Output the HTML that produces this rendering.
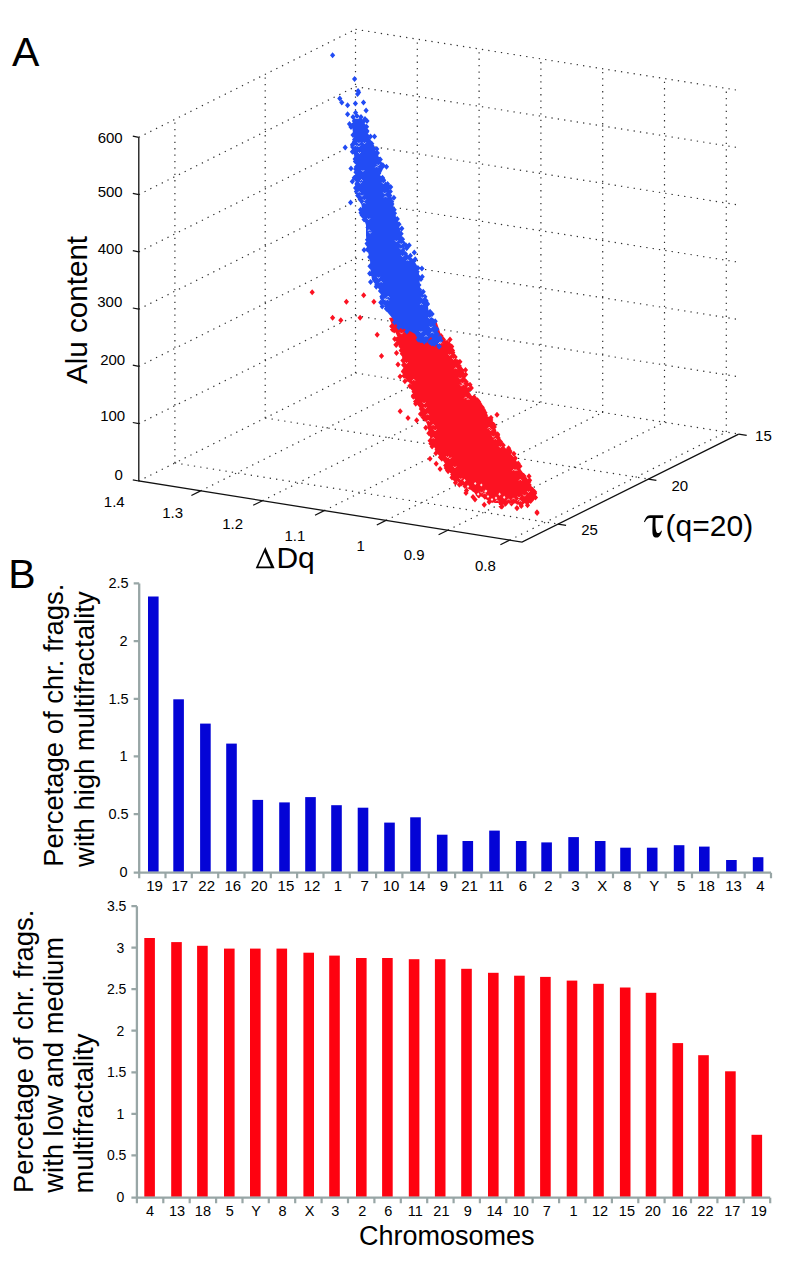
<!DOCTYPE html>
<html><head><meta charset="utf-8"><title>Figure</title>
<style>html,body{margin:0;padding:0;background:#fff;}svg{display:block;}
text{font-family:"Liberation Sans",sans-serif;fill:#000;}</style></head>
<body><svg width="785" height="1261" viewBox="0 0 785 1261">
<path d="M138.8 481.0L355.5 373.0M138.8 423.7L355.5 315.7M138.8 366.4L355.5 258.4M138.8 309.2L355.5 201.2M138.8 251.9L355.5 143.9M138.8 194.6L355.5 86.6M138.8 137.3L355.5 29.3M174.9 463.0L174.9 119.3M265.2 418.0L265.2 74.3M355.5 373.0L355.5 29.3M355.5 373.0L738.7 434.1M355.5 315.7L738.7 376.8M355.5 258.4L738.7 319.5M355.5 201.2L738.7 262.2M355.5 143.9L738.7 205.0M355.5 86.6L738.7 147.7M355.5 29.3L738.7 90.4M355.5 373.0L355.5 29.3M417.3 382.9L417.3 39.2M479.1 392.7L479.1 49.0M540.9 402.6L540.9 58.9M602.7 412.4L602.7 68.7M664.5 422.2L664.5 78.6M726.3 432.1L726.3 88.4M138.8 481.0L355.5 373.0M200.6 490.9L417.3 382.9M262.4 500.7L479.1 392.7M324.2 510.6L540.9 402.6M386.0 520.4L602.7 412.4M447.8 530.2L664.5 422.2M509.6 540.1L726.3 432.1M174.9 463.0L558.1 524.1M265.2 418.0L648.4 479.1M355.5 373.0L738.7 434.1" fill="none" stroke="#303030" stroke-width="1.2" stroke-dasharray="1.3 5.1"/>
<path d="M400.0 316.0L436.0 320.0L441.0 335.0L448.0 343.0L452.0 350.0L455.0 354.0L457.0 360.0L460.0 366.0L464.0 371.5L466.0 380.0L468.0 390.0L472.0 396.0L478.0 401.0L485.0 413.0L494.0 424.0L498.0 436.0L504.5 447.0L510.0 453.0L515.5 459.0L521.0 470.0L525.5 476.0L530.0 482.0L533.5 491.0L534.5 497.0L533.0 501.0L526.0 503.0L518.0 503.5L505.0 503.0L495.0 503.0L489.0 501.0L482.0 497.0L475.0 493.0L467.0 488.0L458.0 482.0L449.0 470.0L442.0 459.0L434.0 447.0L429.5 436.0L427.0 424.0L421.0 413.0L419.5 408.0L416.7 401.5L413.0 397.0L413.0 390.0L411.0 384.0L407.0 381.0L404.5 376.0L403.0 365.0L402.0 356.0L400.5 345.0L397.5 337.0L394.0 329.0L389.0 318.0ZM497.7 431.3l2.6 3.0l-2.6 3.0l-2.6 -3.0zM501.0 500.8l2.6 3.0l-2.6 3.0l-2.6 -3.0zM510.0 448.9l2.6 3.0l-2.6 3.0l-2.6 -3.0zM529.0 478.7l2.6 3.0l-2.6 3.0l-2.6 -3.0zM435.1 328.9l2.6 3.0l-2.6 3.0l-2.6 -3.0zM449.1 341.4l2.6 3.0l-2.6 3.0l-2.6 -3.0zM465.1 391.0l2.6 3.0l-2.6 3.0l-2.6 -3.0zM483.4 489.4l2.6 3.0l-2.6 3.0l-2.6 -3.0zM518.0 462.8l2.6 3.0l-2.6 3.0l-2.6 -3.0zM406.7 374.0l2.6 3.0l-2.6 3.0l-2.6 -3.0zM489.0 416.2l2.6 3.0l-2.6 3.0l-2.6 -3.0zM494.3 424.0l2.6 3.0l-2.6 3.0l-2.6 -3.0zM413.3 393.8l2.6 3.0l-2.6 3.0l-2.6 -3.0zM454.3 475.5l2.6 3.0l-2.6 3.0l-2.6 -3.0zM510.3 453.4l2.6 3.0l-2.6 3.0l-2.6 -3.0zM465.0 380.2l2.6 3.0l-2.6 3.0l-2.6 -3.0zM445.2 455.7l2.6 3.0l-2.6 3.0l-2.6 -3.0zM477.5 490.7l2.6 3.0l-2.6 3.0l-2.6 -3.0zM531.1 488.6l2.6 3.0l-2.6 3.0l-2.6 -3.0zM435.9 450.2l2.6 3.0l-2.6 3.0l-2.6 -3.0zM473.9 399.1l2.6 3.0l-2.6 3.0l-2.6 -3.0zM406.0 365.9l2.6 3.0l-2.6 3.0l-2.6 -3.0zM432.8 434.1l2.6 3.0l-2.6 3.0l-2.6 -3.0zM450.0 336.6l2.6 3.0l-2.6 3.0l-2.6 -3.0zM523.6 472.7l2.6 3.0l-2.6 3.0l-2.6 -3.0zM525.2 497.6l2.6 3.0l-2.6 3.0l-2.6 -3.0zM447.2 461.9l2.6 3.0l-2.6 3.0l-2.6 -3.0zM407.4 365.6l2.6 3.0l-2.6 3.0l-2.6 -3.0zM493.7 427.1l2.6 3.0l-2.6 3.0l-2.6 -3.0zM481.7 489.4l2.6 3.0l-2.6 3.0l-2.6 -3.0zM534.7 489.0l2.6 3.0l-2.6 3.0l-2.6 -3.0zM531.4 493.0l2.6 3.0l-2.6 3.0l-2.6 -3.0zM446.2 465.1l2.6 3.0l-2.6 3.0l-2.6 -3.0zM452.7 471.4l2.6 3.0l-2.6 3.0l-2.6 -3.0zM414.8 391.0l2.6 3.0l-2.6 3.0l-2.6 -3.0zM445.7 462.6l2.6 3.0l-2.6 3.0l-2.6 -3.0zM533.3 492.2l2.6 3.0l-2.6 3.0l-2.6 -3.0zM424.8 415.7l2.6 3.0l-2.6 3.0l-2.6 -3.0zM449.1 344.7l2.6 3.0l-2.6 3.0l-2.6 -3.0zM403.4 368.3l2.6 3.0l-2.6 3.0l-2.6 -3.0zM434.3 323.6l2.6 3.0l-2.6 3.0l-2.6 -3.0zM403.6 361.9l2.6 3.0l-2.6 3.0l-2.6 -3.0zM413.4 392.4l2.6 3.0l-2.6 3.0l-2.6 -3.0zM521.7 472.2l2.6 3.0l-2.6 3.0l-2.6 -3.0zM508.6 445.3l2.6 3.0l-2.6 3.0l-2.6 -3.0zM451.6 355.1l2.6 3.0l-2.6 3.0l-2.6 -3.0zM460.7 366.1l2.6 3.0l-2.6 3.0l-2.6 -3.0zM527.4 499.6l2.6 3.0l-2.6 3.0l-2.6 -3.0zM476.3 489.1l2.6 3.0l-2.6 3.0l-2.6 -3.0zM523.9 472.9l2.6 3.0l-2.6 3.0l-2.6 -3.0zM506.5 454.6l2.6 3.0l-2.6 3.0l-2.6 -3.0zM442.6 451.0l2.6 3.0l-2.6 3.0l-2.6 -3.0zM511.7 496.7l2.6 3.0l-2.6 3.0l-2.6 -3.0zM405.4 353.3l2.6 3.0l-2.6 3.0l-2.6 -3.0zM420.5 411.1l2.6 3.0l-2.6 3.0l-2.6 -3.0zM514.3 462.1l2.6 3.0l-2.6 3.0l-2.6 -3.0zM519.9 463.2l2.6 3.0l-2.6 3.0l-2.6 -3.0zM467.1 381.3l2.6 3.0l-2.6 3.0l-2.6 -3.0zM456.5 360.0l2.6 3.0l-2.6 3.0l-2.6 -3.0zM455.1 354.1l2.6 3.0l-2.6 3.0l-2.6 -3.0zM440.3 333.7l2.6 3.0l-2.6 3.0l-2.6 -3.0zM404.7 366.5l2.6 3.0l-2.6 3.0l-2.6 -3.0zM464.9 483.0l2.6 3.0l-2.6 3.0l-2.6 -3.0zM503.2 442.2l2.6 3.0l-2.6 3.0l-2.6 -3.0zM509.8 448.0l2.6 3.0l-2.6 3.0l-2.6 -3.0zM535.5 494.6l2.6 3.0l-2.6 3.0l-2.6 -3.0zM527.8 498.8l2.6 3.0l-2.6 3.0l-2.6 -3.0zM501.3 440.5l2.6 3.0l-2.6 3.0l-2.6 -3.0zM481.4 405.6l2.6 3.0l-2.6 3.0l-2.6 -3.0zM397.1 327.1l2.6 3.0l-2.6 3.0l-2.6 -3.0zM504.9 500.0l2.6 3.0l-2.6 3.0l-2.6 -3.0zM505.0 500.5l2.6 3.0l-2.6 3.0l-2.6 -3.0zM406.3 372.1l2.6 3.0l-2.6 3.0l-2.6 -3.0zM507.8 451.7l2.6 3.0l-2.6 3.0l-2.6 -3.0zM458.2 361.9l2.6 3.0l-2.6 3.0l-2.6 -3.0zM424.8 409.3l2.6 3.0l-2.6 3.0l-2.6 -3.0zM498.0 434.6l2.6 3.0l-2.6 3.0l-2.6 -3.0zM404.9 378.3l2.6 3.0l-2.6 3.0l-2.6 -3.0zM416.4 398.0l2.6 3.0l-2.6 3.0l-2.6 -3.0zM466.4 392.3l2.6 3.0l-2.6 3.0l-2.6 -3.0zM510.5 498.5l2.6 3.0l-2.6 3.0l-2.6 -3.0zM485.5 412.3l2.6 3.0l-2.6 3.0l-2.6 -3.0zM478.1 404.2l2.6 3.0l-2.6 3.0l-2.6 -3.0zM526.8 486.9l2.6 3.0l-2.6 3.0l-2.6 -3.0zM394.7 335.9l2.6 3.0l-2.6 3.0l-2.6 -3.0zM507.8 450.2l2.6 3.0l-2.6 3.0l-2.6 -3.0zM467.1 387.9l2.6 3.0l-2.6 3.0l-2.6 -3.0zM466.3 379.1l2.6 3.0l-2.6 3.0l-2.6 -3.0zM459.4 481.8l2.6 3.0l-2.6 3.0l-2.6 -3.0zM529.2 495.4l2.6 3.0l-2.6 3.0l-2.6 -3.0zM451.5 468.5l2.6 3.0l-2.6 3.0l-2.6 -3.0zM450.1 464.8l2.6 3.0l-2.6 3.0l-2.6 -3.0zM402.1 348.3l2.6 3.0l-2.6 3.0l-2.6 -3.0zM529.6 494.3l2.6 3.0l-2.6 3.0l-2.6 -3.0zM461.7 367.0l2.6 3.0l-2.6 3.0l-2.6 -3.0zM420.4 399.3l2.6 3.0l-2.6 3.0l-2.6 -3.0zM513.9 464.3l2.6 3.0l-2.6 3.0l-2.6 -3.0zM430.1 437.8l2.6 3.0l-2.6 3.0l-2.6 -3.0zM459.3 363.1l2.6 3.0l-2.6 3.0l-2.6 -3.0zM402.3 350.8l2.6 3.0l-2.6 3.0l-2.6 -3.0zM415.6 398.4l2.6 3.0l-2.6 3.0l-2.6 -3.0zM448.1 468.2l2.6 3.0l-2.6 3.0l-2.6 -3.0zM502.2 444.7l2.6 3.0l-2.6 3.0l-2.6 -3.0zM453.0 469.5l2.6 3.0l-2.6 3.0l-2.6 -3.0zM505.8 500.5l2.6 3.0l-2.6 3.0l-2.6 -3.0zM406.0 367.7l2.6 3.0l-2.6 3.0l-2.6 -3.0zM414.0 388.8l2.6 3.0l-2.6 3.0l-2.6 -3.0zM490.8 417.1l2.6 3.0l-2.6 3.0l-2.6 -3.0zM473.0 397.3l2.6 3.0l-2.6 3.0l-2.6 -3.0zM523.2 473.5l2.6 3.0l-2.6 3.0l-2.6 -3.0zM450.9 344.8l2.6 3.0l-2.6 3.0l-2.6 -3.0zM531.5 490.6l2.6 3.0l-2.6 3.0l-2.6 -3.0zM478.1 492.0l2.6 3.0l-2.6 3.0l-2.6 -3.0zM403.3 343.9l2.6 3.0l-2.6 3.0l-2.6 -3.0zM518.5 496.8l2.6 3.0l-2.6 3.0l-2.6 -3.0zM529.2 482.0l2.6 3.0l-2.6 3.0l-2.6 -3.0zM465.5 367.1l2.6 3.0l-2.6 3.0l-2.6 -3.0zM459.5 364.6l2.6 3.0l-2.6 3.0l-2.6 -3.0zM531.4 497.3l2.6 3.0l-2.6 3.0l-2.6 -3.0zM494.2 433.7l2.6 3.0l-2.6 3.0l-2.6 -3.0zM510.3 495.7l2.6 3.0l-2.6 3.0l-2.6 -3.0zM441.2 336.1l2.6 3.0l-2.6 3.0l-2.6 -3.0zM489.3 496.6l2.6 3.0l-2.6 3.0l-2.6 -3.0zM423.1 414.2l2.6 3.0l-2.6 3.0l-2.6 -3.0zM515.8 496.0l2.6 3.0l-2.6 3.0l-2.6 -3.0zM403.8 346.6l2.6 3.0l-2.6 3.0l-2.6 -3.0zM528.6 484.0l2.6 3.0l-2.6 3.0l-2.6 -3.0zM513.4 497.5l2.6 3.0l-2.6 3.0l-2.6 -3.0zM442.3 449.8l2.6 3.0l-2.6 3.0l-2.6 -3.0zM530.7 497.9l2.6 3.0l-2.6 3.0l-2.6 -3.0zM399.3 331.5l2.6 3.0l-2.6 3.0l-2.6 -3.0zM401.4 330.2l2.6 3.0l-2.6 3.0l-2.6 -3.0zM476.0 405.7l2.6 3.0l-2.6 3.0l-2.6 -3.0zM414.2 380.9l2.6 3.0l-2.6 3.0l-2.6 -3.0zM452.5 347.5l2.6 3.0l-2.6 3.0l-2.6 -3.0zM474.8 395.3l2.6 3.0l-2.6 3.0l-2.6 -3.0zM446.3 461.7l2.6 3.0l-2.6 3.0l-2.6 -3.0zM451.4 357.1l2.6 3.0l-2.6 3.0l-2.6 -3.0zM434.8 440.7l2.6 3.0l-2.6 3.0l-2.6 -3.0zM405.3 362.0l2.6 3.0l-2.6 3.0l-2.6 -3.0zM468.4 386.7l2.6 3.0l-2.6 3.0l-2.6 -3.0zM525.7 498.0l2.6 3.0l-2.6 3.0l-2.6 -3.0zM412.8 385.5l2.6 3.0l-2.6 3.0l-2.6 -3.0zM511.5 500.6l2.6 3.0l-2.6 3.0l-2.6 -3.0zM500.5 438.8l2.6 3.0l-2.6 3.0l-2.6 -3.0zM431.6 438.6l2.6 3.0l-2.6 3.0l-2.6 -3.0zM492.2 497.2l2.6 3.0l-2.6 3.0l-2.6 -3.0zM498.1 435.6l2.6 3.0l-2.6 3.0l-2.6 -3.0zM461.5 478.8l2.6 3.0l-2.6 3.0l-2.6 -3.0zM421.3 406.1l2.6 3.0l-2.6 3.0l-2.6 -3.0zM441.6 334.8l2.6 3.0l-2.6 3.0l-2.6 -3.0zM422.3 410.7l2.6 3.0l-2.6 3.0l-2.6 -3.0zM483.7 407.8l2.6 3.0l-2.6 3.0l-2.6 -3.0zM401.2 347.5l2.6 3.0l-2.6 3.0l-2.6 -3.0zM414.5 392.5l2.6 3.0l-2.6 3.0l-2.6 -3.0zM401.0 343.5l2.6 3.0l-2.6 3.0l-2.6 -3.0zM484.8 493.7l2.6 3.0l-2.6 3.0l-2.6 -3.0zM442.4 452.6l2.6 3.0l-2.6 3.0l-2.6 -3.0zM529.0 473.3l2.6 3.0l-2.6 3.0l-2.6 -3.0zM455.9 477.2l2.6 3.0l-2.6 3.0l-2.6 -3.0zM415.7 400.8l2.6 3.0l-2.6 3.0l-2.6 -3.0zM404.0 372.7l2.6 3.0l-2.6 3.0l-2.6 -3.0zM531.0 488.9l2.6 3.0l-2.6 3.0l-2.6 -3.0zM399.1 340.0l2.6 3.0l-2.6 3.0l-2.6 -3.0zM483.2 406.5l2.6 3.0l-2.6 3.0l-2.6 -3.0zM474.1 394.3l2.6 3.0l-2.6 3.0l-2.6 -3.0zM443.4 336.4l2.6 3.0l-2.6 3.0l-2.6 -3.0zM465.3 377.9l2.6 3.0l-2.6 3.0l-2.6 -3.0zM493.2 426.3l2.6 3.0l-2.6 3.0l-2.6 -3.0zM491.0 414.8l2.6 3.0l-2.6 3.0l-2.6 -3.0zM519.5 499.8l2.6 3.0l-2.6 3.0l-2.6 -3.0zM478.6 398.7l2.6 3.0l-2.6 3.0l-2.6 -3.0zM432.0 432.3l2.6 3.0l-2.6 3.0l-2.6 -3.0zM532.0 496.4l2.6 3.0l-2.6 3.0l-2.6 -3.0zM396.9 336.4l2.6 3.0l-2.6 3.0l-2.6 -3.0zM529.6 477.2l2.6 3.0l-2.6 3.0l-2.6 -3.0zM522.2 499.8l2.6 3.0l-2.6 3.0l-2.6 -3.0zM516.3 497.4l2.6 3.0l-2.6 3.0l-2.6 -3.0zM440.4 454.2l2.6 3.0l-2.6 3.0l-2.6 -3.0zM414.1 385.2l2.6 3.0l-2.6 3.0l-2.6 -3.0zM437.4 444.3l2.6 3.0l-2.6 3.0l-2.6 -3.0zM501.0 443.6l2.6 3.0l-2.6 3.0l-2.6 -3.0zM451.7 343.6l2.6 3.0l-2.6 3.0l-2.6 -3.0zM479.7 401.1l2.6 3.0l-2.6 3.0l-2.6 -3.0zM459.9 358.8l2.6 3.0l-2.6 3.0l-2.6 -3.0zM403.5 368.7l2.6 3.0l-2.6 3.0l-2.6 -3.0zM447.0 460.7l2.6 3.0l-2.6 3.0l-2.6 -3.0zM490.8 417.1l2.6 3.0l-2.6 3.0l-2.6 -3.0zM533.7 490.9l2.6 3.0l-2.6 3.0l-2.6 -3.0zM482.1 404.3l2.6 3.0l-2.6 3.0l-2.6 -3.0zM391.7 323.3l2.6 3.0l-2.6 3.0l-2.6 -3.0zM475.1 397.9l2.6 3.0l-2.6 3.0l-2.6 -3.0zM393.6 320.2l2.6 3.0l-2.6 3.0l-2.6 -3.0zM515.3 455.3l2.6 3.0l-2.6 3.0l-2.6 -3.0zM531.8 495.6l2.6 3.0l-2.6 3.0l-2.6 -3.0zM517.2 499.0l2.6 3.0l-2.6 3.0l-2.6 -3.0zM482.2 404.8l2.6 3.0l-2.6 3.0l-2.6 -3.0zM493.9 421.9l2.6 3.0l-2.6 3.0l-2.6 -3.0zM468.9 394.5l2.6 3.0l-2.6 3.0l-2.6 -3.0zM430.3 423.9l2.6 3.0l-2.6 3.0l-2.6 -3.0zM451.0 465.9l2.6 3.0l-2.6 3.0l-2.6 -3.0zM512.4 461.4l2.6 3.0l-2.6 3.0l-2.6 -3.0zM497.5 432.6l2.6 3.0l-2.6 3.0l-2.6 -3.0zM432.8 437.0l2.6 3.0l-2.6 3.0l-2.6 -3.0zM452.0 474.5l2.6 3.0l-2.6 3.0l-2.6 -3.0zM402.9 357.5l2.6 3.0l-2.6 3.0l-2.6 -3.0zM459.8 478.1l2.6 3.0l-2.6 3.0l-2.6 -3.0zM449.2 351.4l2.6 3.0l-2.6 3.0l-2.6 -3.0zM507.5 495.1l2.6 3.0l-2.6 3.0l-2.6 -3.0zM418.1 398.0l2.6 3.0l-2.6 3.0l-2.6 -3.0zM417.9 388.7l2.6 3.0l-2.6 3.0l-2.6 -3.0zM445.0 454.3l2.6 3.0l-2.6 3.0l-2.6 -3.0zM440.2 450.9l2.6 3.0l-2.6 3.0l-2.6 -3.0zM450.5 346.2l2.6 3.0l-2.6 3.0l-2.6 -3.0zM508.8 446.5l2.6 3.0l-2.6 3.0l-2.6 -3.0zM489.2 498.9l2.6 3.0l-2.6 3.0l-2.6 -3.0zM460.6 476.6l2.6 3.0l-2.6 3.0l-2.6 -3.0zM525.0 496.6l2.6 3.0l-2.6 3.0l-2.6 -3.0zM419.5 401.4l2.6 3.0l-2.6 3.0l-2.6 -3.0zM501.3 496.4l2.6 3.0l-2.6 3.0l-2.6 -3.0zM447.5 467.3l2.6 3.0l-2.6 3.0l-2.6 -3.0zM478.8 399.6l2.6 3.0l-2.6 3.0l-2.6 -3.0zM481.1 406.3l2.6 3.0l-2.6 3.0l-2.6 -3.0zM431.5 429.3l2.6 3.0l-2.6 3.0l-2.6 -3.0zM522.6 497.2l2.6 3.0l-2.6 3.0l-2.6 -3.0zM441.8 455.8l2.6 3.0l-2.6 3.0l-2.6 -3.0zM427.6 414.9l2.6 3.0l-2.6 3.0l-2.6 -3.0zM452.3 353.0l2.6 3.0l-2.6 3.0l-2.6 -3.0zM478.1 401.1l2.6 3.0l-2.6 3.0l-2.6 -3.0zM486.7 493.2l2.6 3.0l-2.6 3.0l-2.6 -3.0zM480.9 408.4l2.6 3.0l-2.6 3.0l-2.6 -3.0zM447.4 457.2l2.6 3.0l-2.6 3.0l-2.6 -3.0zM487.4 418.4l2.6 3.0l-2.6 3.0l-2.6 -3.0zM532.8 493.8l2.6 3.0l-2.6 3.0l-2.6 -3.0zM447.1 339.5l2.6 3.0l-2.6 3.0l-2.6 -3.0zM400.0 334.3l2.6 3.0l-2.6 3.0l-2.6 -3.0zM534.6 490.5l2.6 3.0l-2.6 3.0l-2.6 -3.0zM527.2 488.0l2.6 3.0l-2.6 3.0l-2.6 -3.0zM483.0 407.1l2.6 3.0l-2.6 3.0l-2.6 -3.0zM470.0 381.7l2.6 3.0l-2.6 3.0l-2.6 -3.0zM479.0 492.4l2.6 3.0l-2.6 3.0l-2.6 -3.0zM394.2 327.4l2.6 3.0l-2.6 3.0l-2.6 -3.0zM450.8 345.7l2.6 3.0l-2.6 3.0l-2.6 -3.0zM406.2 359.8l2.6 3.0l-2.6 3.0l-2.6 -3.0zM437.0 446.8l2.6 3.0l-2.6 3.0l-2.6 -3.0zM527.5 502.3l2.6 3.0l-2.6 3.0l-2.6 -3.0zM523.8 497.2l2.6 3.0l-2.6 3.0l-2.6 -3.0zM452.8 349.6l2.6 3.0l-2.6 3.0l-2.6 -3.0zM500.0 442.0l2.6 3.0l-2.6 3.0l-2.6 -3.0zM425.8 424.7l2.6 3.0l-2.6 3.0l-2.6 -3.0zM409.8 382.9l2.6 3.0l-2.6 3.0l-2.6 -3.0zM432.1 443.6l2.6 3.0l-2.6 3.0l-2.6 -3.0zM403.8 352.4l2.6 3.0l-2.6 3.0l-2.6 -3.0zM518.2 460.5l2.6 3.0l-2.6 3.0l-2.6 -3.0zM476.9 488.0l2.6 3.0l-2.6 3.0l-2.6 -3.0zM485.0 409.8l2.6 3.0l-2.6 3.0l-2.6 -3.0zM441.1 333.1l2.6 3.0l-2.6 3.0l-2.6 -3.0zM400.6 334.5l2.6 3.0l-2.6 3.0l-2.6 -3.0zM476.7 399.1l2.6 3.0l-2.6 3.0l-2.6 -3.0zM465.6 371.5l2.6 3.0l-2.6 3.0l-2.6 -3.0zM513.9 450.7l2.6 3.0l-2.6 3.0l-2.6 -3.0zM416.3 394.1l2.6 3.0l-2.6 3.0l-2.6 -3.0zM455.5 479.8l2.6 3.0l-2.6 3.0l-2.6 -3.0zM495.2 496.1l2.6 3.0l-2.6 3.0l-2.6 -3.0zM430.9 440.4l2.6 3.0l-2.6 3.0l-2.6 -3.0zM532.5 486.7l2.6 3.0l-2.6 3.0l-2.6 -3.0zM429.8 422.9l2.6 3.0l-2.6 3.0l-2.6 -3.0zM402.1 338.8l2.6 3.0l-2.6 3.0l-2.6 -3.0zM447.1 344.7l2.6 3.0l-2.6 3.0l-2.6 -3.0zM491.5 419.7l2.6 3.0l-2.6 3.0l-2.6 -3.0zM428.9 430.3l2.6 3.0l-2.6 3.0l-2.6 -3.0zM451.0 466.9l2.6 3.0l-2.6 3.0l-2.6 -3.0zM490.9 422.2l2.6 3.0l-2.6 3.0l-2.6 -3.0zM457.4 362.5l2.6 3.0l-2.6 3.0l-2.6 -3.0zM457.7 359.0l2.6 3.0l-2.6 3.0l-2.6 -3.0zM521.3 502.9l2.6 3.0l-2.6 3.0l-2.6 -3.0zM471.3 384.9l2.6 3.0l-2.6 3.0l-2.6 -3.0zM312.2 289.2l2.6 3.0l-2.6 3.0l-2.6 -3.0zM346.4 298.7l2.6 3.0l-2.6 3.0l-2.6 -3.0zM363.7 292.3l2.6 3.0l-2.6 3.0l-2.6 -3.0zM373.9 298.7l2.6 3.0l-2.6 3.0l-2.6 -3.0zM332.6 314.7l2.6 3.0l-2.6 3.0l-2.6 -3.0zM340.8 317.3l2.6 3.0l-2.6 3.0l-2.6 -3.0zM360.1 314.7l2.6 3.0l-2.6 3.0l-2.6 -3.0zM377.2 331.8l2.6 3.0l-2.6 3.0l-2.6 -3.0zM381.5 352.9l2.6 3.0l-2.6 3.0l-2.6 -3.0zM396.3 342.0l2.6 3.0l-2.6 3.0l-2.6 -3.0zM400.2 408.3l2.6 3.0l-2.6 3.0l-2.6 -3.0zM408.0 415.0l2.6 3.0l-2.6 3.0l-2.6 -3.0zM416.7 417.3l2.6 3.0l-2.6 3.0l-2.6 -3.0zM430.0 455.8l2.6 3.0l-2.6 3.0l-2.6 -3.0zM436.2 460.8l2.6 3.0l-2.6 3.0l-2.6 -3.0zM440.1 466.1l2.6 3.0l-2.6 3.0l-2.6 -3.0zM484.3 501.7l2.6 3.0l-2.6 3.0l-2.6 -3.0zM516.9 505.1l2.6 3.0l-2.6 3.0l-2.6 -3.0zM537.1 510.1l2.6 3.0l-2.6 3.0l-2.6 -3.0zM497.0 411.8l2.6 3.0l-2.6 3.0l-2.6 -3.0zM395.9 341.8l2.6 3.0l-2.6 3.0l-2.6 -3.0zM398.0 361.5l2.6 3.0l-2.6 3.0l-2.6 -3.0zM400.1 373.4l2.6 3.0l-2.6 3.0l-2.6 -3.0zM392.4 326.4l2.6 3.0l-2.6 3.0l-2.6 -3.0zM396.5 350.0l2.6 3.0l-2.6 3.0l-2.6 -3.0zM501.1 503.4l2.6 3.0l-2.6 3.0l-2.6 -3.0zM473.0 494.0l2.6 3.0l-2.6 3.0l-2.6 -3.0zM477.5 397.3l2.6 3.0l-2.6 3.0l-2.6 -3.0zM466.0 490.0l2.6 3.0l-2.6 3.0l-2.6 -3.0zM475.0 496.6l2.6 3.0l-2.6 3.0l-2.6 -3.0zM484.2 501.8l2.6 3.0l-2.6 3.0l-2.6 -3.0zM466.5 487.5l2.6 3.0l-2.6 3.0l-2.6 -3.0zM461.3 480.6l2.6 3.0l-2.6 3.0l-2.6 -3.0zM502.0 503.5l2.6 3.0l-2.6 3.0l-2.6 -3.0zM517.0 505.2l2.6 3.0l-2.6 3.0l-2.6 -3.0zM537.0 509.2l2.6 3.0l-2.6 3.0l-2.6 -3.0z" fill="#fc1222"/>
<path d="M519.0 501.9l1.3 -1.5l1.3 1.5M430.8 329.0l1.3 -1.5l1.3 1.5M424.0 407.2l1.3 1.5l1.3 -1.5M514.7 471.0l1.3 -1.5l1.3 1.5M431.3 328.8l1.3 1.5l1.3 -1.5M461.7 385.2l1.3 -1.5l1.3 1.5M517.4 500.7l1.3 -1.5l1.3 1.5M466.8 400.0l1.3 -1.5l1.3 1.5M431.8 425.7l1.3 -1.5l1.3 1.5M499.0 446.1l1.3 1.5l1.3 -1.5M412.4 380.7l1.3 -1.5l1.3 1.5M454.5 369.1l1.3 -1.5l1.3 1.5M480.3 491.7l1.3 1.5l1.3 -1.5M405.2 362.2l1.3 1.5l1.3 -1.5M487.9 428.6l1.3 -1.5l1.3 1.5M452.2 358.0l1.3 1.5l1.3 -1.5M492.0 435.8l1.3 1.5l1.3 -1.5M494.1 439.7l1.3 -1.5l1.3 1.5M431.9 438.8l1.3 -1.5l1.3 1.5M437.1 339.9l1.3 -1.5l1.3 1.5M422.8 402.5l1.3 1.5l1.3 -1.5M459.0 377.6l1.3 1.5l1.3 -1.5M461.2 382.5l1.3 1.5l1.3 -1.5M512.5 470.7l1.3 -1.5l1.3 1.5M517.7 496.6l1.3 1.5l1.3 -1.5M448.4 354.1l1.3 1.5l1.3 -1.5M433.9 429.5l1.3 1.5l1.3 -1.5M484.1 490.7l1.3 1.5l1.3 -1.5M464.4 398.4l1.3 -1.5l1.3 1.5M426.5 415.1l1.3 -1.5l1.3 1.5M446.2 456.2l1.3 1.5l1.3 -1.5M489.3 429.3l1.3 1.5l1.3 -1.5M519.0 480.6l1.3 -1.5l1.3 1.5M459.5 478.2l1.3 1.5l1.3 -1.5M527.1 491.1l1.3 1.5l1.3 -1.5M448.6 457.4l1.3 1.5l1.3 -1.5M453.6 466.4l1.3 1.5l1.3 -1.5M523.2 494.7l1.3 1.5l1.3 -1.5M495.8 501.3l1.3 -1.5l1.3 1.5M400.2 332.6l1.3 1.5l1.3 -1.5M483.3 494.3l1.3 -1.5l1.3 1.5M512.2 499.4l1.3 -1.5l1.3 1.5M507.2 500.3l1.3 -1.5l1.3 1.5M460.2 384.6l1.3 1.5l1.3 -1.5M427.0 421.6l1.3 -1.5l1.3 1.5" fill="none" stroke="#fff" stroke-width="0.7" opacity="0.85"/>
<path d="M475.2 481.9l1.3 1.6l-1.3 1.6l-1.3 -1.6zM481.3 483.4l1.3 1.6l-1.3 1.6l-1.3 -1.6zM485.9 489.5l1.3 1.6l-1.3 1.6l-1.3 -1.6zM464.5 478.8l1.3 1.6l-1.3 1.6l-1.3 -1.6zM499.6 492.6l1.3 1.6l-1.3 1.6l-1.3 -1.6zM504.2 495.7l1.3 1.6l-1.3 1.6l-1.3 -1.6zM470.6 489.5l1.3 1.6l-1.3 1.6l-1.3 -1.6zM478.2 492.6l1.3 1.6l-1.3 1.6l-1.3 -1.6zM492.0 497.9l1.3 1.6l-1.3 1.6l-1.3 -1.6zM468.0 484.9l1.3 1.6l-1.3 1.6l-1.3 -1.6zM488.0 494.9l1.3 1.6l-1.3 1.6l-1.3 -1.6zM496.0 496.4l1.3 1.6l-1.3 1.6l-1.3 -1.6z" fill="#fff" opacity="0.9"/>
<path d="M368.0 139.0L373.2 145.0L375.0 150.0L380.5 160.0L384.0 167.0L380.0 175.0L388.5 185.0L391.5 195.0L391.0 205.0L395.5 215.0L397.5 225.0L401.5 235.0L404.5 245.0L405.0 253.0L413.0 259.0L418.5 268.0L419.5 280.0L420.5 290.0L427.0 300.0L428.5 310.0L432.0 318.0L436.0 325.0L438.0 333.0L439.0 340.0L438.0 347.0L436.0 344.0L431.0 337.0L426.0 342.0L420.0 343.0L415.0 334.0L408.0 330.0L398.0 327.0L392.6 318.5L385.5 310.0L383.0 300.0L379.5 290.0L372.0 280.0L370.5 270.0L370.0 260.0L367.5 250.0L366.5 245.0L366.0 235.0L366.0 225.0L362.5 215.0L361.5 205.0L357.5 195.0L355.0 185.0L357.0 175.0L356.5 167.0L355.5 160.0L354.0 150.0L352.5 145.0L354.0 139.0ZM355.0 119.0L361.0 119.0L364.0 124.0L366.5 131.0L368.0 137.5L357.0 138.5L353.0 133.0L352.0 126.0ZM434.0 337.3l2.6 3.0l-2.6 3.0l-2.6 -3.0zM390.2 196.2l2.6 3.0l-2.6 3.0l-2.6 -3.0zM420.8 288.7l2.6 3.0l-2.6 3.0l-2.6 -3.0zM381.4 175.7l2.6 3.0l-2.6 3.0l-2.6 -3.0zM398.8 324.3l2.6 3.0l-2.6 3.0l-2.6 -3.0zM357.3 177.5l2.6 3.0l-2.6 3.0l-2.6 -3.0zM432.3 322.3l2.6 3.0l-2.6 3.0l-2.6 -3.0zM419.7 334.0l2.6 3.0l-2.6 3.0l-2.6 -3.0zM383.1 162.6l2.6 3.0l-2.6 3.0l-2.6 -3.0zM413.8 258.2l2.6 3.0l-2.6 3.0l-2.6 -3.0zM424.6 337.6l2.6 3.0l-2.6 3.0l-2.6 -3.0zM384.1 299.4l2.6 3.0l-2.6 3.0l-2.6 -3.0zM410.8 257.3l2.6 3.0l-2.6 3.0l-2.6 -3.0zM401.8 248.0l2.6 3.0l-2.6 3.0l-2.6 -3.0zM353.4 144.5l2.6 3.0l-2.6 3.0l-2.6 -3.0zM360.0 195.3l2.6 3.0l-2.6 3.0l-2.6 -3.0zM374.8 150.2l2.6 3.0l-2.6 3.0l-2.6 -3.0zM370.0 263.2l2.6 3.0l-2.6 3.0l-2.6 -3.0zM396.1 315.9l2.6 3.0l-2.6 3.0l-2.6 -3.0zM364.5 139.2l2.6 3.0l-2.6 3.0l-2.6 -3.0zM360.6 206.7l2.6 3.0l-2.6 3.0l-2.6 -3.0zM357.7 192.6l2.6 3.0l-2.6 3.0l-2.6 -3.0zM386.9 182.7l2.6 3.0l-2.6 3.0l-2.6 -3.0zM387.8 205.2l2.6 3.0l-2.6 3.0l-2.6 -3.0zM356.3 150.3l2.6 3.0l-2.6 3.0l-2.6 -3.0zM373.3 256.9l2.6 3.0l-2.6 3.0l-2.6 -3.0zM434.4 341.0l2.6 3.0l-2.6 3.0l-2.6 -3.0zM406.9 328.6l2.6 3.0l-2.6 3.0l-2.6 -3.0zM403.4 240.2l2.6 3.0l-2.6 3.0l-2.6 -3.0zM358.5 160.8l2.6 3.0l-2.6 3.0l-2.6 -3.0zM388.5 191.3l2.6 3.0l-2.6 3.0l-2.6 -3.0zM401.6 249.7l2.6 3.0l-2.6 3.0l-2.6 -3.0zM385.3 184.1l2.6 3.0l-2.6 3.0l-2.6 -3.0zM379.5 164.4l2.6 3.0l-2.6 3.0l-2.6 -3.0zM427.8 309.9l2.6 3.0l-2.6 3.0l-2.6 -3.0zM401.1 236.3l2.6 3.0l-2.6 3.0l-2.6 -3.0zM417.2 268.7l2.6 3.0l-2.6 3.0l-2.6 -3.0zM439.3 343.4l2.6 3.0l-2.6 3.0l-2.6 -3.0zM357.7 179.3l2.6 3.0l-2.6 3.0l-2.6 -3.0zM435.3 337.9l2.6 3.0l-2.6 3.0l-2.6 -3.0zM352.6 141.4l2.6 3.0l-2.6 3.0l-2.6 -3.0zM372.0 265.5l2.6 3.0l-2.6 3.0l-2.6 -3.0zM426.2 337.3l2.6 3.0l-2.6 3.0l-2.6 -3.0zM376.2 278.1l2.6 3.0l-2.6 3.0l-2.6 -3.0zM376.7 282.1l2.6 3.0l-2.6 3.0l-2.6 -3.0zM357.0 158.4l2.6 3.0l-2.6 3.0l-2.6 -3.0zM419.6 286.7l2.6 3.0l-2.6 3.0l-2.6 -3.0zM434.6 324.2l2.6 3.0l-2.6 3.0l-2.6 -3.0zM367.8 219.4l2.6 3.0l-2.6 3.0l-2.6 -3.0zM370.5 248.1l2.6 3.0l-2.6 3.0l-2.6 -3.0zM355.2 137.3l2.6 3.0l-2.6 3.0l-2.6 -3.0zM418.4 273.7l2.6 3.0l-2.6 3.0l-2.6 -3.0zM399.8 235.5l2.6 3.0l-2.6 3.0l-2.6 -3.0zM369.0 238.1l2.6 3.0l-2.6 3.0l-2.6 -3.0zM430.0 339.3l2.6 3.0l-2.6 3.0l-2.6 -3.0zM395.8 219.0l2.6 3.0l-2.6 3.0l-2.6 -3.0zM376.3 283.7l2.6 3.0l-2.6 3.0l-2.6 -3.0zM354.2 147.0l2.6 3.0l-2.6 3.0l-2.6 -3.0zM401.1 230.7l2.6 3.0l-2.6 3.0l-2.6 -3.0zM355.2 137.0l2.6 3.0l-2.6 3.0l-2.6 -3.0zM382.0 162.0l2.6 3.0l-2.6 3.0l-2.6 -3.0zM432.1 310.9l2.6 3.0l-2.6 3.0l-2.6 -3.0zM372.3 250.9l2.6 3.0l-2.6 3.0l-2.6 -3.0zM366.8 135.9l2.6 3.0l-2.6 3.0l-2.6 -3.0zM394.6 218.3l2.6 3.0l-2.6 3.0l-2.6 -3.0zM356.3 153.1l2.6 3.0l-2.6 3.0l-2.6 -3.0zM378.5 282.6l2.6 3.0l-2.6 3.0l-2.6 -3.0zM425.6 305.1l2.6 3.0l-2.6 3.0l-2.6 -3.0zM394.5 210.2l2.6 3.0l-2.6 3.0l-2.6 -3.0zM367.6 138.2l2.6 3.0l-2.6 3.0l-2.6 -3.0zM352.7 143.9l2.6 3.0l-2.6 3.0l-2.6 -3.0zM390.3 188.6l2.6 3.0l-2.6 3.0l-2.6 -3.0zM423.9 295.3l2.6 3.0l-2.6 3.0l-2.6 -3.0zM362.7 208.5l2.6 3.0l-2.6 3.0l-2.6 -3.0zM377.6 158.3l2.6 3.0l-2.6 3.0l-2.6 -3.0zM438.4 336.8l2.6 3.0l-2.6 3.0l-2.6 -3.0zM399.0 221.3l2.6 3.0l-2.6 3.0l-2.6 -3.0zM426.1 297.9l2.6 3.0l-2.6 3.0l-2.6 -3.0zM433.0 320.1l2.6 3.0l-2.6 3.0l-2.6 -3.0zM364.2 212.9l2.6 3.0l-2.6 3.0l-2.6 -3.0zM375.2 151.5l2.6 3.0l-2.6 3.0l-2.6 -3.0zM383.2 162.8l2.6 3.0l-2.6 3.0l-2.6 -3.0zM369.1 244.4l2.6 3.0l-2.6 3.0l-2.6 -3.0zM359.2 171.6l2.6 3.0l-2.6 3.0l-2.6 -3.0zM352.8 142.7l2.6 3.0l-2.6 3.0l-2.6 -3.0zM386.7 305.2l2.6 3.0l-2.6 3.0l-2.6 -3.0zM421.0 275.9l2.6 3.0l-2.6 3.0l-2.6 -3.0zM415.2 256.2l2.6 3.0l-2.6 3.0l-2.6 -3.0zM357.6 162.7l2.6 3.0l-2.6 3.0l-2.6 -3.0zM384.1 297.1l2.6 3.0l-2.6 3.0l-2.6 -3.0zM402.6 241.1l2.6 3.0l-2.6 3.0l-2.6 -3.0zM431.8 340.5l2.6 3.0l-2.6 3.0l-2.6 -3.0zM426.7 309.6l2.6 3.0l-2.6 3.0l-2.6 -3.0zM401.5 249.3l2.6 3.0l-2.6 3.0l-2.6 -3.0zM356.0 157.1l2.6 3.0l-2.6 3.0l-2.6 -3.0zM396.1 216.7l2.6 3.0l-2.6 3.0l-2.6 -3.0zM366.4 207.6l2.6 3.0l-2.6 3.0l-2.6 -3.0zM368.7 232.0l2.6 3.0l-2.6 3.0l-2.6 -3.0zM417.1 277.8l2.6 3.0l-2.6 3.0l-2.6 -3.0zM425.7 297.3l2.6 3.0l-2.6 3.0l-2.6 -3.0zM396.1 224.4l2.6 3.0l-2.6 3.0l-2.6 -3.0zM367.9 241.8l2.6 3.0l-2.6 3.0l-2.6 -3.0zM376.1 150.4l2.6 3.0l-2.6 3.0l-2.6 -3.0zM408.0 323.0l2.6 3.0l-2.6 3.0l-2.6 -3.0zM352.3 178.4l2.6 3.0l-2.6 3.0l-2.6 -3.0zM362.0 137.5l2.6 3.0l-2.6 3.0l-2.6 -3.0zM383.7 177.3l2.6 3.0l-2.6 3.0l-2.6 -3.0zM425.5 336.7l2.6 3.0l-2.6 3.0l-2.6 -3.0zM400.9 241.8l2.6 3.0l-2.6 3.0l-2.6 -3.0zM432.9 323.6l2.6 3.0l-2.6 3.0l-2.6 -3.0zM370.3 243.8l2.6 3.0l-2.6 3.0l-2.6 -3.0zM361.0 195.7l2.6 3.0l-2.6 3.0l-2.6 -3.0zM362.5 198.4l2.6 3.0l-2.6 3.0l-2.6 -3.0zM415.8 266.4l2.6 3.0l-2.6 3.0l-2.6 -3.0zM370.1 248.7l2.6 3.0l-2.6 3.0l-2.6 -3.0zM397.2 225.0l2.6 3.0l-2.6 3.0l-2.6 -3.0zM391.4 202.9l2.6 3.0l-2.6 3.0l-2.6 -3.0zM358.5 179.3l2.6 3.0l-2.6 3.0l-2.6 -3.0zM429.0 313.7l2.6 3.0l-2.6 3.0l-2.6 -3.0zM364.3 138.8l2.6 3.0l-2.6 3.0l-2.6 -3.0zM364.9 214.4l2.6 3.0l-2.6 3.0l-2.6 -3.0zM380.5 288.1l2.6 3.0l-2.6 3.0l-2.6 -3.0zM435.7 338.0l2.6 3.0l-2.6 3.0l-2.6 -3.0zM361.4 209.9l2.6 3.0l-2.6 3.0l-2.6 -3.0zM373.9 155.3l2.6 3.0l-2.6 3.0l-2.6 -3.0zM417.9 265.0l2.6 3.0l-2.6 3.0l-2.6 -3.0zM354.6 136.6l2.6 3.0l-2.6 3.0l-2.6 -3.0zM394.6 319.2l2.6 3.0l-2.6 3.0l-2.6 -3.0zM358.5 186.9l2.6 3.0l-2.6 3.0l-2.6 -3.0zM437.3 337.4l2.6 3.0l-2.6 3.0l-2.6 -3.0zM352.4 148.8l2.6 3.0l-2.6 3.0l-2.6 -3.0zM384.4 182.7l2.6 3.0l-2.6 3.0l-2.6 -3.0zM399.0 233.8l2.6 3.0l-2.6 3.0l-2.6 -3.0zM426.8 300.0l2.6 3.0l-2.6 3.0l-2.6 -3.0zM405.6 250.9l2.6 3.0l-2.6 3.0l-2.6 -3.0zM391.8 311.2l2.6 3.0l-2.6 3.0l-2.6 -3.0zM369.8 141.9l2.6 3.0l-2.6 3.0l-2.6 -3.0zM418.0 281.5l2.6 3.0l-2.6 3.0l-2.6 -3.0zM416.8 274.1l2.6 3.0l-2.6 3.0l-2.6 -3.0zM398.6 226.7l2.6 3.0l-2.6 3.0l-2.6 -3.0zM380.2 164.7l2.6 3.0l-2.6 3.0l-2.6 -3.0zM383.2 180.9l2.6 3.0l-2.6 3.0l-2.6 -3.0zM382.2 295.0l2.6 3.0l-2.6 3.0l-2.6 -3.0zM382.5 174.8l2.6 3.0l-2.6 3.0l-2.6 -3.0zM435.2 318.3l2.6 3.0l-2.6 3.0l-2.6 -3.0zM413.1 262.0l2.6 3.0l-2.6 3.0l-2.6 -3.0zM422.2 273.7l2.6 3.0l-2.6 3.0l-2.6 -3.0zM401.1 322.2l2.6 3.0l-2.6 3.0l-2.6 -3.0zM356.4 188.4l2.6 3.0l-2.6 3.0l-2.6 -3.0zM366.3 138.2l2.6 3.0l-2.6 3.0l-2.6 -3.0zM369.7 253.9l2.6 3.0l-2.6 3.0l-2.6 -3.0zM401.8 225.5l2.6 3.0l-2.6 3.0l-2.6 -3.0zM435.6 325.5l2.6 3.0l-2.6 3.0l-2.6 -3.0zM366.9 208.7l2.6 3.0l-2.6 3.0l-2.6 -3.0zM438.9 343.5l2.6 3.0l-2.6 3.0l-2.6 -3.0zM394.2 206.7l2.6 3.0l-2.6 3.0l-2.6 -3.0zM383.1 293.9l2.6 3.0l-2.6 3.0l-2.6 -3.0zM355.8 166.2l2.6 3.0l-2.6 3.0l-2.6 -3.0zM427.6 300.9l2.6 3.0l-2.6 3.0l-2.6 -3.0zM424.3 338.8l2.6 3.0l-2.6 3.0l-2.6 -3.0zM418.3 336.5l2.6 3.0l-2.6 3.0l-2.6 -3.0zM355.4 158.5l2.6 3.0l-2.6 3.0l-2.6 -3.0zM364.1 216.6l2.6 3.0l-2.6 3.0l-2.6 -3.0zM354.5 138.6l2.6 3.0l-2.6 3.0l-2.6 -3.0zM354.9 149.7l2.6 3.0l-2.6 3.0l-2.6 -3.0zM355.9 138.0l2.6 3.0l-2.6 3.0l-2.6 -3.0zM357.0 157.9l2.6 3.0l-2.6 3.0l-2.6 -3.0zM430.1 308.8l2.6 3.0l-2.6 3.0l-2.6 -3.0zM364.9 206.8l2.6 3.0l-2.6 3.0l-2.6 -3.0zM391.8 206.5l2.6 3.0l-2.6 3.0l-2.6 -3.0zM430.6 317.9l2.6 3.0l-2.6 3.0l-2.6 -3.0zM360.2 196.4l2.6 3.0l-2.6 3.0l-2.6 -3.0zM399.5 233.9l2.6 3.0l-2.6 3.0l-2.6 -3.0zM428.8 315.8l2.6 3.0l-2.6 3.0l-2.6 -3.0zM388.8 188.7l2.6 3.0l-2.6 3.0l-2.6 -3.0zM402.8 247.3l2.6 3.0l-2.6 3.0l-2.6 -3.0zM373.7 155.9l2.6 3.0l-2.6 3.0l-2.6 -3.0zM402.7 324.0l2.6 3.0l-2.6 3.0l-2.6 -3.0zM362.7 199.8l2.6 3.0l-2.6 3.0l-2.6 -3.0zM386.4 186.6l2.6 3.0l-2.6 3.0l-2.6 -3.0zM386.7 300.0l2.6 3.0l-2.6 3.0l-2.6 -3.0zM415.4 271.2l2.6 3.0l-2.6 3.0l-2.6 -3.0zM436.9 326.2l2.6 3.0l-2.6 3.0l-2.6 -3.0zM381.4 283.9l2.6 3.0l-2.6 3.0l-2.6 -3.0zM373.8 145.7l2.6 3.0l-2.6 3.0l-2.6 -3.0zM387.6 304.0l2.6 3.0l-2.6 3.0l-2.6 -3.0zM367.5 236.7l2.6 3.0l-2.6 3.0l-2.6 -3.0zM368.6 228.6l2.6 3.0l-2.6 3.0l-2.6 -3.0zM435.8 338.8l2.6 3.0l-2.6 3.0l-2.6 -3.0zM387.6 180.9l2.6 3.0l-2.6 3.0l-2.6 -3.0zM382.7 175.1l2.6 3.0l-2.6 3.0l-2.6 -3.0zM436.7 334.3l2.6 3.0l-2.6 3.0l-2.6 -3.0zM384.1 295.8l2.6 3.0l-2.6 3.0l-2.6 -3.0zM378.7 170.6l2.6 3.0l-2.6 3.0l-2.6 -3.0zM420.1 335.2l2.6 3.0l-2.6 3.0l-2.6 -3.0zM378.6 160.5l2.6 3.0l-2.6 3.0l-2.6 -3.0zM355.1 145.6l2.6 3.0l-2.6 3.0l-2.6 -3.0zM393.9 194.7l2.6 3.0l-2.6 3.0l-2.6 -3.0zM374.9 250.6l2.6 3.0l-2.6 3.0l-2.6 -3.0zM362.0 211.9l2.6 3.0l-2.6 3.0l-2.6 -3.0zM431.8 338.4l2.6 3.0l-2.6 3.0l-2.6 -3.0zM353.3 143.1l2.6 3.0l-2.6 3.0l-2.6 -3.0zM368.0 224.4l2.6 3.0l-2.6 3.0l-2.6 -3.0zM355.1 156.0l2.6 3.0l-2.6 3.0l-2.6 -3.0zM367.1 240.4l2.6 3.0l-2.6 3.0l-2.6 -3.0zM392.4 205.5l2.6 3.0l-2.6 3.0l-2.6 -3.0zM364.8 211.3l2.6 3.0l-2.6 3.0l-2.6 -3.0zM385.5 197.9l2.6 3.0l-2.6 3.0l-2.6 -3.0zM398.8 229.2l2.6 3.0l-2.6 3.0l-2.6 -3.0zM407.2 255.4l2.6 3.0l-2.6 3.0l-2.6 -3.0zM376.1 152.1l2.6 3.0l-2.6 3.0l-2.6 -3.0zM397.3 216.1l2.6 3.0l-2.6 3.0l-2.6 -3.0zM370.6 279.1l2.6 3.0l-2.6 3.0l-2.6 -3.0zM356.5 173.2l2.6 3.0l-2.6 3.0l-2.6 -3.0zM390.7 184.0l2.6 3.0l-2.6 3.0l-2.6 -3.0zM418.1 331.2l2.6 3.0l-2.6 3.0l-2.6 -3.0zM358.2 183.5l2.6 3.0l-2.6 3.0l-2.6 -3.0zM407.1 321.7l2.6 3.0l-2.6 3.0l-2.6 -3.0zM384.3 182.1l2.6 3.0l-2.6 3.0l-2.6 -3.0zM364.5 138.7l2.6 3.0l-2.6 3.0l-2.6 -3.0zM367.9 219.0l2.6 3.0l-2.6 3.0l-2.6 -3.0zM410.4 252.7l2.6 3.0l-2.6 3.0l-2.6 -3.0zM425.0 296.8l2.6 3.0l-2.6 3.0l-2.6 -3.0zM368.7 236.1l2.6 3.0l-2.6 3.0l-2.6 -3.0zM368.4 246.4l2.6 3.0l-2.6 3.0l-2.6 -3.0zM379.5 156.8l2.6 3.0l-2.6 3.0l-2.6 -3.0zM384.8 294.0l2.6 3.0l-2.6 3.0l-2.6 -3.0zM360.1 139.8l2.6 3.0l-2.6 3.0l-2.6 -3.0zM416.4 274.3l2.6 3.0l-2.6 3.0l-2.6 -3.0zM368.3 136.9l2.6 3.0l-2.6 3.0l-2.6 -3.0zM386.4 305.7l2.6 3.0l-2.6 3.0l-2.6 -3.0zM432.6 330.6l2.6 3.0l-2.6 3.0l-2.6 -3.0zM389.8 192.4l2.6 3.0l-2.6 3.0l-2.6 -3.0zM401.6 238.0l2.6 3.0l-2.6 3.0l-2.6 -3.0zM367.5 138.1l2.6 3.0l-2.6 3.0l-2.6 -3.0zM424.9 293.7l2.6 3.0l-2.6 3.0l-2.6 -3.0zM402.5 236.2l2.6 3.0l-2.6 3.0l-2.6 -3.0zM396.9 317.6l2.6 3.0l-2.6 3.0l-2.6 -3.0zM386.3 301.7l2.6 3.0l-2.6 3.0l-2.6 -3.0zM433.2 339.7l2.6 3.0l-2.6 3.0l-2.6 -3.0zM406.7 245.3l2.6 3.0l-2.6 3.0l-2.6 -3.0zM391.9 201.1l2.6 3.0l-2.6 3.0l-2.6 -3.0zM355.6 185.0l2.6 3.0l-2.6 3.0l-2.6 -3.0zM368.6 227.5l2.6 3.0l-2.6 3.0l-2.6 -3.0zM371.3 140.7l2.6 3.0l-2.6 3.0l-2.6 -3.0zM384.2 291.2l2.6 3.0l-2.6 3.0l-2.6 -3.0zM383.2 291.2l2.6 3.0l-2.6 3.0l-2.6 -3.0zM440.1 334.7l2.6 3.0l-2.6 3.0l-2.6 -3.0zM402.3 248.0l2.6 3.0l-2.6 3.0l-2.6 -3.0zM356.0 169.3l2.6 3.0l-2.6 3.0l-2.6 -3.0zM432.6 317.6l2.6 3.0l-2.6 3.0l-2.6 -3.0zM406.2 242.4l2.6 3.0l-2.6 3.0l-2.6 -3.0zM371.8 140.8l2.6 3.0l-2.6 3.0l-2.6 -3.0zM407.8 326.5l2.6 3.0l-2.6 3.0l-2.6 -3.0zM396.9 225.3l2.6 3.0l-2.6 3.0l-2.6 -3.0zM390.5 306.6l2.6 3.0l-2.6 3.0l-2.6 -3.0zM364.1 212.1l2.6 3.0l-2.6 3.0l-2.6 -3.0zM393.7 213.0l2.6 3.0l-2.6 3.0l-2.6 -3.0zM380.3 156.4l2.6 3.0l-2.6 3.0l-2.6 -3.0zM356.9 176.4l2.6 3.0l-2.6 3.0l-2.6 -3.0zM366.8 141.2l2.6 3.0l-2.6 3.0l-2.6 -3.0zM361.1 197.1l2.6 3.0l-2.6 3.0l-2.6 -3.0zM371.0 246.6l2.6 3.0l-2.6 3.0l-2.6 -3.0zM437.4 339.1l2.6 3.0l-2.6 3.0l-2.6 -3.0zM403.4 240.1l2.6 3.0l-2.6 3.0l-2.6 -3.0zM375.2 153.7l2.6 3.0l-2.6 3.0l-2.6 -3.0zM369.7 270.4l2.6 3.0l-2.6 3.0l-2.6 -3.0zM361.2 196.6l2.6 3.0l-2.6 3.0l-2.6 -3.0zM407.2 323.8l2.6 3.0l-2.6 3.0l-2.6 -3.0zM437.3 331.3l2.6 3.0l-2.6 3.0l-2.6 -3.0zM407.8 256.6l2.6 3.0l-2.6 3.0l-2.6 -3.0zM381.9 293.6l2.6 3.0l-2.6 3.0l-2.6 -3.0zM356.9 181.1l2.6 3.0l-2.6 3.0l-2.6 -3.0zM371.8 142.7l2.6 3.0l-2.6 3.0l-2.6 -3.0zM367.4 246.4l2.6 3.0l-2.6 3.0l-2.6 -3.0zM355.7 148.8l2.6 3.0l-2.6 3.0l-2.6 -3.0zM358.3 181.3l2.6 3.0l-2.6 3.0l-2.6 -3.0zM418.9 282.1l2.6 3.0l-2.6 3.0l-2.6 -3.0zM380.8 299.6l2.6 3.0l-2.6 3.0l-2.6 -3.0zM375.2 270.8l2.6 3.0l-2.6 3.0l-2.6 -3.0zM440.8 337.5l2.6 3.0l-2.6 3.0l-2.6 -3.0zM363.0 198.8l2.6 3.0l-2.6 3.0l-2.6 -3.0zM433.3 332.4l2.6 3.0l-2.6 3.0l-2.6 -3.0zM372.5 255.0l2.6 3.0l-2.6 3.0l-2.6 -3.0zM398.9 231.1l2.6 3.0l-2.6 3.0l-2.6 -3.0zM382.2 303.4l2.6 3.0l-2.6 3.0l-2.6 -3.0zM391.7 198.7l2.6 3.0l-2.6 3.0l-2.6 -3.0zM376.8 146.1l2.6 3.0l-2.6 3.0l-2.6 -3.0zM423.2 288.8l2.6 3.0l-2.6 3.0l-2.6 -3.0zM390.4 197.3l2.6 3.0l-2.6 3.0l-2.6 -3.0zM372.5 271.3l2.6 3.0l-2.6 3.0l-2.6 -3.0zM385.5 296.8l2.6 3.0l-2.6 3.0l-2.6 -3.0zM380.1 162.2l2.6 3.0l-2.6 3.0l-2.6 -3.0zM396.0 314.0l2.6 3.0l-2.6 3.0l-2.6 -3.0zM361.0 209.7l2.6 3.0l-2.6 3.0l-2.6 -3.0zM354.3 174.8l2.6 3.0l-2.6 3.0l-2.6 -3.0zM356.3 163.9l2.6 3.0l-2.6 3.0l-2.6 -3.0zM354.7 149.1l2.6 3.0l-2.6 3.0l-2.6 -3.0zM388.2 183.1l2.6 3.0l-2.6 3.0l-2.6 -3.0zM377.4 150.1l2.6 3.0l-2.6 3.0l-2.6 -3.0zM360.4 132.9l2.6 3.0l-2.6 3.0l-2.6 -3.0zM354.8 125.2l2.6 3.0l-2.6 3.0l-2.6 -3.0zM360.8 118.6l2.6 3.0l-2.6 3.0l-2.6 -3.0zM360.7 117.3l2.6 3.0l-2.6 3.0l-2.6 -3.0zM363.8 128.3l2.6 3.0l-2.6 3.0l-2.6 -3.0zM367.8 133.4l2.6 3.0l-2.6 3.0l-2.6 -3.0zM364.4 125.8l2.6 3.0l-2.6 3.0l-2.6 -3.0zM356.2 130.1l2.6 3.0l-2.6 3.0l-2.6 -3.0zM354.3 118.0l2.6 3.0l-2.6 3.0l-2.6 -3.0zM364.5 135.0l2.6 3.0l-2.6 3.0l-2.6 -3.0zM356.8 119.5l2.6 3.0l-2.6 3.0l-2.6 -3.0zM363.3 133.7l2.6 3.0l-2.6 3.0l-2.6 -3.0zM366.6 129.0l2.6 3.0l-2.6 3.0l-2.6 -3.0zM356.7 130.5l2.6 3.0l-2.6 3.0l-2.6 -3.0zM353.8 123.2l2.6 3.0l-2.6 3.0l-2.6 -3.0zM360.3 116.9l2.6 3.0l-2.6 3.0l-2.6 -3.0zM355.1 118.5l2.6 3.0l-2.6 3.0l-2.6 -3.0zM363.1 121.5l2.6 3.0l-2.6 3.0l-2.6 -3.0zM355.3 122.6l2.6 3.0l-2.6 3.0l-2.6 -3.0zM364.8 130.0l2.6 3.0l-2.6 3.0l-2.6 -3.0zM362.4 120.7l2.6 3.0l-2.6 3.0l-2.6 -3.0zM364.7 131.3l2.6 3.0l-2.6 3.0l-2.6 -3.0zM366.6 123.7l2.6 3.0l-2.6 3.0l-2.6 -3.0zM355.2 119.7l2.6 3.0l-2.6 3.0l-2.6 -3.0zM354.8 132.3l2.6 3.0l-2.6 3.0l-2.6 -3.0zM332.6 52.3l2.6 3.0l-2.6 3.0l-2.6 -3.0zM354.6 76.0l2.6 3.0l-2.6 3.0l-2.6 -3.0zM358.1 87.9l2.6 3.0l-2.6 3.0l-2.6 -3.0zM357.6 91.0l2.6 3.0l-2.6 3.0l-2.6 -3.0zM358.6 89.5l2.6 3.0l-2.6 3.0l-2.6 -3.0zM339.8 95.5l2.6 3.0l-2.6 3.0l-2.6 -3.0zM341.8 99.6l2.6 3.0l-2.6 3.0l-2.6 -3.0zM347.6 102.2l2.6 3.0l-2.6 3.0l-2.6 -3.0zM355.4 100.6l2.6 3.0l-2.6 3.0l-2.6 -3.0zM363.5 99.4l2.6 3.0l-2.6 3.0l-2.6 -3.0zM366.1 107.6l2.6 3.0l-2.6 3.0l-2.6 -3.0zM347.6 111.3l2.6 3.0l-2.6 3.0l-2.6 -3.0zM355.6 109.8l2.6 3.0l-2.6 3.0l-2.6 -3.0zM353.0 114.0l2.6 3.0l-2.6 3.0l-2.6 -3.0zM357.0 113.0l2.6 3.0l-2.6 3.0l-2.6 -3.0zM361.0 114.0l2.6 3.0l-2.6 3.0l-2.6 -3.0zM365.0 116.0l2.6 3.0l-2.6 3.0l-2.6 -3.0zM355.0 118.0l2.6 3.0l-2.6 3.0l-2.6 -3.0zM359.0 118.0l2.6 3.0l-2.6 3.0l-2.6 -3.0zM363.0 119.0l2.6 3.0l-2.6 3.0l-2.6 -3.0zM367.0 118.0l2.6 3.0l-2.6 3.0l-2.6 -3.0zM349.5 121.0l2.6 3.0l-2.6 3.0l-2.6 -3.0zM353.0 122.0l2.6 3.0l-2.6 3.0l-2.6 -3.0zM351.0 124.0l2.6 3.0l-2.6 3.0l-2.6 -3.0zM355.0 126.0l2.6 3.0l-2.6 3.0l-2.6 -3.0zM359.0 127.0l2.6 3.0l-2.6 3.0l-2.6 -3.0zM363.0 126.0l2.6 3.0l-2.6 3.0l-2.6 -3.0zM367.0 128.0l2.6 3.0l-2.6 3.0l-2.6 -3.0zM357.0 130.0l2.6 3.0l-2.6 3.0l-2.6 -3.0zM361.0 129.0l2.6 3.0l-2.6 3.0l-2.6 -3.0zM365.0 124.0l2.6 3.0l-2.6 3.0l-2.6 -3.0zM370.5 133.5l2.6 3.0l-2.6 3.0l-2.6 -3.0zM374.5 133.5l2.6 3.0l-2.6 3.0l-2.6 -3.0zM353.0 132.0l2.6 3.0l-2.6 3.0l-2.6 -3.0zM357.0 134.0l2.6 3.0l-2.6 3.0l-2.6 -3.0zM361.0 133.0l2.6 3.0l-2.6 3.0l-2.6 -3.0zM355.0 137.0l2.6 3.0l-2.6 3.0l-2.6 -3.0zM359.0 137.0l2.6 3.0l-2.6 3.0l-2.6 -3.0zM363.0 136.0l2.6 3.0l-2.6 3.0l-2.6 -3.0zM366.0 137.0l2.6 3.0l-2.6 3.0l-2.6 -3.0zM369.0 138.0l2.6 3.0l-2.6 3.0l-2.6 -3.0zM345.2 144.4l2.6 3.0l-2.6 3.0l-2.6 -3.0zM351.0 165.5l2.6 3.0l-2.6 3.0l-2.6 -3.0zM350.6 199.5l2.6 3.0l-2.6 3.0l-2.6 -3.0zM362.4 212.0l2.6 3.0l-2.6 3.0l-2.6 -3.0zM421.9 265.4l2.6 3.0l-2.6 3.0l-2.6 -3.0zM386.5 163.8l2.6 3.0l-2.6 3.0l-2.6 -3.0zM409.2 242.3l2.6 3.0l-2.6 3.0l-2.6 -3.0zM414.3 249.5l2.6 3.0l-2.6 3.0l-2.6 -3.0zM364.1 247.0l2.6 3.0l-2.6 3.0l-2.6 -3.0z" fill="#224cf4"/>
<path d="M421.4 296.9l1.3 1.5l1.3 -1.5M428.1 317.0l1.3 1.5l1.3 -1.5M429.6 326.5l1.3 1.5l1.3 -1.5M406.5 261.0l1.3 -1.5l1.3 1.5M358.2 152.1l1.3 1.5l1.3 -1.5M367.4 218.3l1.3 1.5l1.3 -1.5M384.2 197.4l1.3 -1.5l1.3 1.5M386.2 300.6l1.3 -1.5l1.3 1.5M395.1 240.4l1.3 1.5l1.3 -1.5M386.9 297.6l1.3 -1.5l1.3 1.5M438.3 343.9l1.3 -1.5l1.3 1.5M383.4 192.5l1.3 1.5l1.3 -1.5M360.7 194.9l1.3 1.5l1.3 -1.5M401.3 255.3l1.3 1.5l1.3 -1.5M363.2 142.3l1.3 1.5l1.3 -1.5M399.6 247.9l1.3 1.5l1.3 -1.5M430.9 333.3l1.3 -1.5l1.3 1.5M420.0 305.0l1.3 -1.5l1.3 1.5M375.3 167.5l1.3 -1.5l1.3 1.5M367.8 231.1l1.3 -1.5l1.3 1.5M384.4 298.7l1.3 1.5l1.3 -1.5M357.5 145.5l1.3 1.5l1.3 -1.5M382.1 182.3l1.3 1.5l1.3 -1.5M368.8 231.9l1.3 1.5l1.3 -1.5M361.6 170.1l1.3 1.5l1.3 -1.5M360.2 180.9l1.3 -1.5l1.3 1.5M379.8 282.7l1.3 -1.5l1.3 1.5M362.6 203.5l1.3 -1.5l1.3 1.5M419.6 331.1l1.3 1.5l1.3 -1.5M359.1 181.9l1.3 1.5l1.3 -1.5M399.9 243.2l1.3 1.5l1.3 -1.5M377.0 164.4l1.3 1.5l1.3 -1.5M424.7 336.8l1.3 -1.5l1.3 1.5M357.9 192.9l1.3 -1.5l1.3 1.5M439.3 343.3l1.3 -1.5l1.3 1.5M363.1 199.4l1.3 1.5l1.3 -1.5M354.1 146.6l1.3 -1.5l1.3 1.5M384.0 300.0l1.3 -1.5l1.3 1.5M377.2 276.9l1.3 1.5l1.3 -1.5M357.6 142.3l1.3 1.5l1.3 -1.5" fill="none" stroke="#fff" stroke-width="0.7" opacity="0.85"/>
<path d="M138.8 137.3L138.8 481.0L522.0 542.1L738.7 434.1" fill="none" stroke="#111" stroke-width="1.3"/>
<path d="M138.8 481.0l-6 -1.2M138.8 423.7l-6 -1.2M138.8 366.4l-6 -1.2M138.8 309.2l-6 -1.2M138.8 251.9l-6 -1.2M138.8 194.6l-6 -1.2M138.8 137.3l-6 -1.2M200.6 490.9l-9.2 4.6M262.4 500.7l-9.2 4.6M324.2 510.6l-9.2 4.6M386.0 520.4l-9.2 4.6M447.8 530.2l-9.2 4.6M509.6 540.1l-9.2 4.6M558.1 524.1l8 1.3M648.4 479.1l8 1.3M738.7 434.1l8 1.3" fill="none" stroke="#111" stroke-width="1.2"/>
<text x="122.7" y="142.8" font-size="15" text-anchor="end" >600</text>
<text x="122.7" y="196.8" font-size="15" text-anchor="end" >500</text>
<text x="122.8" y="254" font-size="15" text-anchor="end" >400</text>
<text x="122.3" y="306.9" font-size="15" text-anchor="end" >300</text>
<text x="125.2" y="365" font-size="15" text-anchor="end" >200</text>
<text x="125.2" y="421" font-size="15" text-anchor="end" >100</text>
<text x="122.9" y="479.9" font-size="15" text-anchor="end" >0</text>
<text x="103.8" y="506.7" font-size="15" text-anchor="start" >1.4</text>
<text x="162.2" y="518.2" font-size="15" text-anchor="start" >1.3</text>
<text x="222.2" y="528.5" font-size="15" text-anchor="start" >1.2</text>
<text x="284.5" y="541.1" font-size="15" text-anchor="start" >1.1</text>
<text x="356.5" y="551" font-size="15" text-anchor="start" >1</text>
<text x="403.7" y="560.1" font-size="15" text-anchor="start" >0.9</text>
<text x="475.0" y="570.9" font-size="15" text-anchor="start" >0.8</text>
<text x="755.1" y="441.4" font-size="15" text-anchor="start" >15</text>
<text x="671.4000000000001" y="490.9" font-size="15" text-anchor="start" >20</text>
<text x="581.2" y="534.5" font-size="15" text-anchor="start" >25</text>
<text x="12" y="65.7" font-size="41" text-anchor="start" >A</text>
<text x="8.3" y="587.7" font-size="41" text-anchor="start" >B</text>
<path d="M265.3 546.9L274.6 568.2L255.7 568.2ZM264.6 552.3L258.3 566.6L270.9 566.6Z" fill="#000" fill-rule="evenodd"/>
<text x="276.4" y="568.1" font-size="30" text-anchor="start" >Dq</text>
<text x="665.6" y="536.2" font-size="30" text-anchor="start" >(q=20)</text>
<path d="M644.0 521.8C645.5 518.5 646.5 515.2 650 515.2L663.2 515.2L663.2 517.9L655.6 517.9C655.4 523 655.3 528 656.3 531.5C657.2 534 659.5 533.5 661.3 530.4L661.9 530.9C661.2 534.5 659 537.6 656.5 537.6C653.5 537.6 652.4 535.5 652.4 531C652.4 527 652.6 522 652.7 517.9L650.2 517.9C647.5 517.9 645.8 519.8 644.8 522.3Z" fill="#000"/>
<text transform="translate(86.6 384.0) rotate(-90)" font-size="29.6">Alu content</text>
<rect x="148.0" y="596.5" width="10.6" height="275.3" fill="#0404d6"/><rect x="173.3" y="699.3" width="10.6" height="172.5" fill="#0404d6"/><rect x="200.1" y="723.6" width="10.6" height="148.2" fill="#0404d6"/><rect x="226.2" y="743.6" width="10.6" height="128.2" fill="#0404d6"/><rect x="252.5" y="799.9" width="10.6" height="71.9" fill="#0404d6"/><rect x="279.2" y="802.4" width="10.6" height="69.4" fill="#0404d6"/><rect x="305.2" y="797.1" width="10.6" height="74.7" fill="#0404d6"/><rect x="331.2" y="805.2" width="10.6" height="66.6" fill="#0404d6"/><rect x="357.7" y="807.7" width="10.6" height="64.1" fill="#0404d6"/><rect x="384.2" y="822.6" width="10.6" height="49.2" fill="#0404d6"/><rect x="410.2" y="817.3" width="10.6" height="54.5" fill="#0404d6"/><rect x="436.9" y="834.7" width="10.6" height="37.1" fill="#0404d6"/><rect x="462.5" y="841.0" width="10.6" height="30.8" fill="#0404d6"/><rect x="489.2" y="830.6" width="10.6" height="41.2" fill="#0404d6"/><rect x="515.9" y="841.0" width="10.6" height="30.8" fill="#0404d6"/><rect x="541.3" y="842.4" width="10.6" height="29.4" fill="#0404d6"/><rect x="568.3" y="837.1" width="10.6" height="34.7" fill="#0404d6"/><rect x="594.9" y="841.0" width="10.6" height="30.8" fill="#0404d6"/><rect x="620.2" y="847.7" width="10.6" height="24.1" fill="#0404d6"/><rect x="646.9" y="847.7" width="10.6" height="24.1" fill="#0404d6"/><rect x="673.8" y="845.2" width="10.6" height="26.6" fill="#0404d6"/><rect x="699.0" y="846.6" width="10.6" height="25.2" fill="#0404d6"/><rect x="726.1" y="860.0" width="10.6" height="11.8" fill="#0404d6"/><rect x="752.8" y="857.2" width="10.6" height="14.6" fill="#0404d6"/>
<path d="M139.2 583.4V872.7H771.0M133.7 872.7H139.2" fill="none" stroke="#98a6a6" stroke-width="2.3"/>
<path d="M133.7 814.1H139.2M133.7 756.4H139.2M133.7 698.8H139.2M133.7 641.1H139.2M133.7 583.4H139.2M139.2 872.7V878.3M165.5 872.7V878.3M191.8 872.7V878.3M218.2 872.7V878.3M244.5 872.7V878.3M270.8 872.7V878.3M297.1 872.7V878.3M323.5 872.7V878.3M349.8 872.7V878.3M376.1 872.7V878.3M402.4 872.7V878.3M428.8 872.7V878.3M455.1 872.7V878.3M481.4 872.7V878.3M507.8 872.7V878.3M534.1 872.7V878.3M560.4 872.7V878.3M586.7 872.7V878.3M613.0 872.7V878.3M639.4 872.7V878.3M665.7 872.7V878.3M692.0 872.7V878.3M718.3 872.7V878.3M744.7 872.7V878.3M771.0 872.7V878.3" fill="none" stroke="#98a6a6" stroke-width="2.2"/>
<text x="154.5" y="891.2" font-size="15" text-anchor="middle" >19</text>
<text x="179.8" y="891.2" font-size="15" text-anchor="middle" >17</text>
<text x="206.7" y="891.2" font-size="15" text-anchor="middle" >22</text>
<text x="232.8" y="891.2" font-size="15" text-anchor="middle" >16</text>
<text x="259.2" y="891.2" font-size="15" text-anchor="middle" >20</text>
<text x="285.9" y="891.2" font-size="15" text-anchor="middle" >15</text>
<text x="312.0" y="891.2" font-size="15" text-anchor="middle" >12</text>
<text x="338.0" y="891.2" font-size="15" text-anchor="middle" >1</text>
<text x="364.6" y="891.2" font-size="15" text-anchor="middle" >7</text>
<text x="391.1" y="891.2" font-size="15" text-anchor="middle" >10</text>
<text x="417.1" y="891.2" font-size="15" text-anchor="middle" >14</text>
<text x="443.9" y="891.2" font-size="15" text-anchor="middle" >9</text>
<text x="469.5" y="891.2" font-size="15" text-anchor="middle" >21</text>
<text x="496.3" y="891.2" font-size="15" text-anchor="middle" >11</text>
<text x="523.0" y="891.2" font-size="15" text-anchor="middle" >6</text>
<text x="548.5" y="891.2" font-size="15" text-anchor="middle" >2</text>
<text x="575.5" y="891.2" font-size="15" text-anchor="middle" >3</text>
<text x="602.2" y="891.2" font-size="15" text-anchor="middle" >X</text>
<text x="627.5" y="891.2" font-size="15" text-anchor="middle" >8</text>
<text x="654.3" y="891.2" font-size="15" text-anchor="middle" >Y</text>
<text x="681.2" y="891.2" font-size="15" text-anchor="middle" >5</text>
<text x="706.4" y="891.2" font-size="15" text-anchor="middle" >18</text>
<text x="733.6" y="891.2" font-size="15" text-anchor="middle" >13</text>
<text x="760.3" y="891.2" font-size="15" text-anchor="middle" >4</text>
<text x="127.7" y="876.8" font-size="14.5" text-anchor="end" >0</text>
<text x="128.7" y="819.1" font-size="14.5" text-anchor="end" >0.5</text>
<text x="127.7" y="761.4" font-size="14.5" text-anchor="end" >1</text>
<text x="128.7" y="703.8" font-size="14.5" text-anchor="end" >1.5</text>
<text x="127.7" y="646.1" font-size="14.5" text-anchor="end" >2</text>
<text x="128.7" y="588.4" font-size="14.5" text-anchor="end" >2.5</text>
<rect x="144.3" y="938.0" width="10.6" height="258.8" fill="#fe0210"/><rect x="171.2" y="942.1" width="10.6" height="254.7" fill="#fe0210"/><rect x="197.1" y="945.8" width="10.6" height="251.0" fill="#fe0210"/><rect x="224.0" y="948.6" width="10.6" height="248.2" fill="#fe0210"/><rect x="250.0" y="948.6" width="10.6" height="248.2" fill="#fe0210"/><rect x="276.5" y="948.6" width="10.6" height="248.2" fill="#fe0210"/><rect x="303.4" y="952.7" width="10.6" height="244.1" fill="#fe0210"/><rect x="329.2" y="955.6" width="10.6" height="241.2" fill="#fe0210"/><rect x="356.0" y="958.0" width="10.6" height="238.8" fill="#fe0210"/><rect x="382.1" y="958.0" width="10.6" height="238.8" fill="#fe0210"/><rect x="408.8" y="959.2" width="10.6" height="237.6" fill="#fe0210"/><rect x="434.9" y="959.2" width="10.6" height="237.6" fill="#fe0210"/><rect x="461.2" y="968.8" width="10.6" height="228.0" fill="#fe0210"/><rect x="488.0" y="972.8" width="10.6" height="224.0" fill="#fe0210"/><rect x="514.1" y="975.7" width="10.6" height="221.1" fill="#fe0210"/><rect x="540.1" y="976.9" width="10.6" height="219.9" fill="#fe0210"/><rect x="566.7" y="980.6" width="10.6" height="216.2" fill="#fe0210"/><rect x="593.2" y="983.8" width="10.6" height="213.0" fill="#fe0210"/><rect x="619.9" y="987.5" width="10.6" height="209.3" fill="#fe0210"/><rect x="645.7" y="992.8" width="10.6" height="204.0" fill="#fe0210"/><rect x="672.5" y="1043.1" width="10.6" height="153.7" fill="#fe0210"/><rect x="698.2" y="1055.2" width="10.6" height="141.6" fill="#fe0210"/><rect x="725.1" y="1071.3" width="10.6" height="125.5" fill="#fe0210"/><rect x="751.5" y="1134.8" width="10.6" height="62.0" fill="#fe0210"/>
<path d="M136.9 906.2V1197.7H770.2M131.4 1197.7H136.9" fill="none" stroke="#98a6a6" stroke-width="2.3"/>
<path d="M131.4 1155.3H136.9M131.4 1113.8H136.9M131.4 1072.3H136.9M131.4 1030.7H136.9M131.4 989.2H136.9M131.4 947.7H136.9M131.4 906.2H136.9M136.9 1197.7V1203.3M163.3 1197.7V1203.3M189.7 1197.7V1203.3M216.1 1197.7V1203.3M242.5 1197.7V1203.3M268.8 1197.7V1203.3M295.2 1197.7V1203.3M321.6 1197.7V1203.3M348.0 1197.7V1203.3M374.4 1197.7V1203.3M400.8 1197.7V1203.3M427.2 1197.7V1203.3M453.6 1197.7V1203.3M479.9 1197.7V1203.3M506.3 1197.7V1203.3M532.7 1197.7V1203.3M559.1 1197.7V1203.3M585.5 1197.7V1203.3M611.9 1197.7V1203.3M638.3 1197.7V1203.3M664.6 1197.7V1203.3M691.0 1197.7V1203.3M717.4 1197.7V1203.3M743.8 1197.7V1203.3M770.2 1197.7V1203.3" fill="none" stroke="#98a6a6" stroke-width="2.2"/>
<text x="150.0" y="1215.9" font-size="14.5" text-anchor="middle" >4</text>
<text x="177.0" y="1215.9" font-size="14.5" text-anchor="middle" >13</text>
<text x="202.9" y="1215.9" font-size="14.5" text-anchor="middle" >18</text>
<text x="229.9" y="1215.9" font-size="14.5" text-anchor="middle" >5</text>
<text x="256.0" y="1215.9" font-size="14.5" text-anchor="middle" >Y</text>
<text x="282.6" y="1215.9" font-size="14.5" text-anchor="middle" >8</text>
<text x="309.5" y="1215.9" font-size="14.5" text-anchor="middle" >X</text>
<text x="335.4" y="1215.9" font-size="14.5" text-anchor="middle" >3</text>
<text x="362.3" y="1215.9" font-size="14.5" text-anchor="middle" >2</text>
<text x="388.4" y="1215.9" font-size="14.5" text-anchor="middle" >6</text>
<text x="415.2" y="1215.9" font-size="14.5" text-anchor="middle" >11</text>
<text x="441.4" y="1215.9" font-size="14.5" text-anchor="middle" >21</text>
<text x="467.7" y="1215.9" font-size="14.5" text-anchor="middle" >9</text>
<text x="494.6" y="1215.9" font-size="14.5" text-anchor="middle" >14</text>
<text x="520.8" y="1215.9" font-size="14.5" text-anchor="middle" >10</text>
<text x="546.8" y="1215.9" font-size="14.5" text-anchor="middle" >7</text>
<text x="573.5" y="1215.9" font-size="14.5" text-anchor="middle" >1</text>
<text x="600.1" y="1215.9" font-size="14.5" text-anchor="middle" >12</text>
<text x="626.9" y="1215.9" font-size="14.5" text-anchor="middle" >15</text>
<text x="652.7" y="1215.9" font-size="14.5" text-anchor="middle" >20</text>
<text x="679.6" y="1215.9" font-size="14.5" text-anchor="middle" >16</text>
<text x="705.4" y="1215.9" font-size="14.5" text-anchor="middle" >22</text>
<text x="732.3" y="1215.9" font-size="14.5" text-anchor="middle" >17</text>
<text x="758.8" y="1215.9" font-size="14.5" text-anchor="middle" >19</text>
<text x="124.4" y="1201.8" font-size="14" text-anchor="end" >0</text>
<text x="126.4" y="1160.3" font-size="14" text-anchor="end" >0.5</text>
<text x="124.4" y="1118.8" font-size="14" text-anchor="end" >1</text>
<text x="126.4" y="1077.3" font-size="14" text-anchor="end" >1.5</text>
<text x="124.4" y="1035.7" font-size="14" text-anchor="end" >2</text>
<text x="126.4" y="994.2" font-size="14" text-anchor="end" >2.5</text>
<text x="124.4" y="952.7" font-size="14" text-anchor="end" >3</text>
<text x="126.4" y="911.2" font-size="14" text-anchor="end" >3.5</text>
<text transform="translate(63.2 866.8) rotate(-90)" font-size="27.4">Percetage of chr. frags.</text>
<text transform="translate(93.9 866.9) rotate(-90)" font-size="27.4">with high multifractality</text>
<text transform="translate(32.8 1192.9) rotate(-90)" font-size="27.4">Percetage of chr. frags.</text>
<text transform="translate(63.3 1192.7) rotate(-90)" font-size="27.4">with low and medium</text>
<text transform="translate(92.9 1193.4) rotate(-90)" font-size="27.4">multifractality</text>
<text x="359" y="1244.8" font-size="27" text-anchor="start" >Chromosomes</text>
</svg></body></html>
